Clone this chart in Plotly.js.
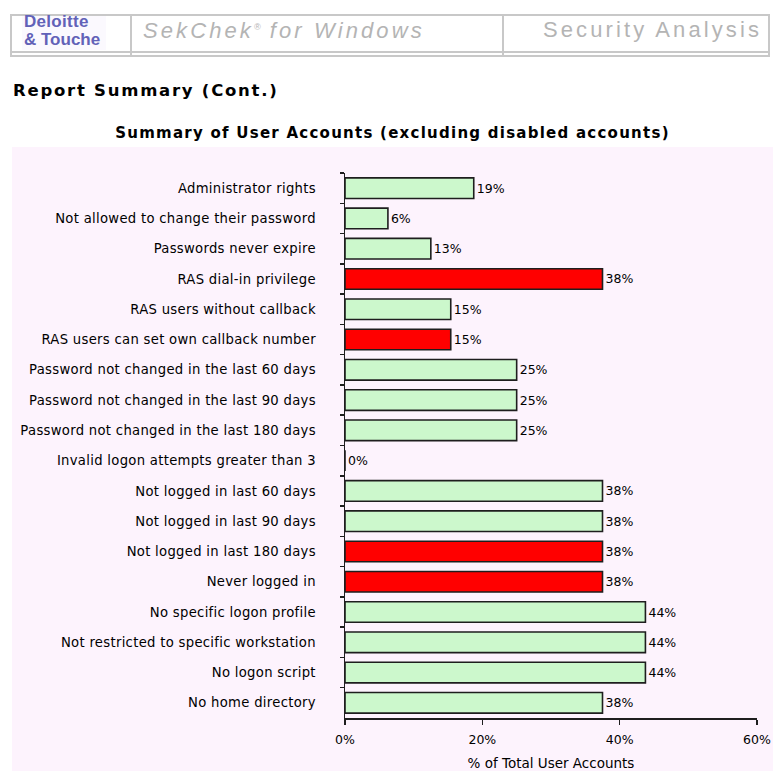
<!DOCTYPE html>
<html>
<head>
<meta charset="utf-8">
<script src="https://cdn.plot.ly/plotly-3.0.1.min.js"></script>
<style>
  html, body { margin:0; padding:0; background:#ffffff; width:773px; height:771px; overflow:hidden; position:relative; }
  .abs { position:absolute; white-space:nowrap; }
  .hline { position:absolute; height:0; border-top:2px solid #c8c8c8; }
  .vline { position:absolute; width:0; border-left:2px solid #c8c8c8; }
  #chart .ytick text { letter-spacing: 0.3px; }
</style>
</head>
<body>
<!-- header box -->
<div class="hline" style="left:10px; top:14px; width:760px;"></div>
<div class="hline" style="left:10px; top:51px; width:760px;"></div>
<div class="hline" style="left:10px; top:55px; width:760px;"></div>
<div class="vline" style="left:10px; top:14px; height:43px;"></div>
<div class="vline" style="left:130px; top:14px; height:43px;"></div>
<div class="vline" style="left:502px; top:14px; height:43px;"></div>
<div class="vline" style="left:768px; top:14px; height:43px;"></div>
<div class="abs" style="left:22px; top:16px; width:84px; height:34px; background:#fbf9fe;"></div>
<div class="abs" style="left:24px; top:13px; font-family:'Liberation Sans',Arial,sans-serif; font-weight:bold; font-size:17px; line-height:18px; color:#6262b8; letter-spacing:0.3px;">Deloitte</div>
<div class="abs" style="left:24px; top:31px; font-family:'Liberation Sans',Arial,sans-serif; font-weight:bold; font-size:17px; line-height:18px; color:#6262b8; letter-spacing:0px;">&amp; Touche</div>
<div class="abs" style="left:143px; top:17px; font-family:'Liberation Sans',Arial,sans-serif; font-style:italic; font-size:22px; line-height:28px; color:#b4b4b4; letter-spacing:3.1px;">SekChek<span style="font-size:9px; vertical-align:8px; line-height:0; letter-spacing:0;">®</span> for Windows</div>
<div class="abs" style="left:480px; width:282px; text-align:right; top:16px; font-family:'Liberation Sans',Arial,sans-serif; font-size:22px; line-height:28px; color:#b4b4b4; letter-spacing:3.1px;">Security Analysis</div>

<div class="abs" style="left:13px; top:79px; font-family:'DejaVu Sans',sans-serif; font-weight:bold; font-size:16.5px; line-height:24px; color:#000; letter-spacing:1.75px;">Report Summary (Cont.)</div>
<div class="abs" style="left:12px; width:761px; text-align:center; top:123px; font-family:'DejaVu Sans',sans-serif; font-weight:bold; font-size:15px; line-height:20px; color:#000; letter-spacing:1.25px;">Summary of User Accounts (excluding disabled accounts)</div>

<div id="chart" class="abs" style="left:12px; top:147px; width:761px; height:624px;"></div>

<script>
const categories = [
  "Administrator rights",
  "Not allowed to change their password",
  "Passwords never expire",
  "RAS dial-in privilege",
  "RAS users without callback",
  "RAS users can set own callback number",
  "Password not changed in the last 60 days",
  "Password not changed in the last 90 days",
  "Password not changed in the last 180 days",
  "Invalid logon attempts greater than 3",
  "Not logged in last 60 days",
  "Not logged in last 90 days",
  "Not logged in last 180 days",
  "Never logged in",
  "No specific logon profile",
  "Not restricted to specific workstation",
  "No logon script",
  "No home directory"
];
const percentValues = [18.75, 6.25, 12.5, 37.5, 15.4, 15.4, 25, 25, 25, 0, 37.5, 37.5, 37.5, 37.5, 43.75, 43.75, 43.75, 37.5];
const flagged = [false, false, false, true, false, true, false, false, false, false, false, false, true, true, false, false, false, false];
const xTickValues = [0, 20, 40, 60];
const xTickLabels = ["0%", "20%", "40%", "60%"];

const colors = flagged.map(f => f ? "#ff0000" : "#ccf8cc");

const trace = {
  type: "bar",
  orientation: "h",
  y: categories,
  x: percentValues,
  width: 0.68,
  marker: { color: colors, line: { color: "#1e1e1e", width: 1.6 } },
  texttemplate: "%{x:.0f}%",
  textposition: "outside",
  textfont: { family: "DejaVu Sans, sans-serif", size: 12.5, color: "#000" },
  cliponaxis: false,
  hoverinfo: "none"
};

const layout = {
  width: 761, height: 624,
  margin: { l: 333, r: 16, t: 26, b: 53, pad: 0 },
  paper_bgcolor: "#fdf3fd",
  plot_bgcolor: "#fdf3fd",
  showlegend: false,
  font: { family: "DejaVu Sans, sans-serif", size: 12.5, color: "#000" },
  xaxis: {
    range: [0, 60],
    tickvals: xTickValues,
    ticktext: xTickLabels,
    showgrid: false, zeroline: false,
    showline: true, linecolor: "#1e1e1e", linewidth: 1.5,
    ticks: "outside", ticklen: 5, tickcolor: "#1e1e1e", tickwidth: 1.5,
    ticklabelstandoff: 4,
    tickfont: { size: 12.5 },
    title: { text: "% of Total User Accounts", standoff: 14, font: { size: 13.5 } },
    fixedrange: true
  },
  yaxis: {
    type: "category",
    autorange: "reversed",
    tickson: "boundaries",
    showgrid: false, zeroline: false,
    showline: true, linecolor: "#1e1e1e", linewidth: 1.5,
    ticks: "outside", ticklen: 4, tickcolor: "#1e1e1e", tickwidth: 1.5,
    ticklabelstandoff: 25,
    tickfont: { size: 13.2 },
    fixedrange: true
  },
  bargap: 0.32
};

Plotly.newPlot("chart", [trace], layout, { displayModeBar: false, staticPlot: true });
</script>
</body>
</html>
